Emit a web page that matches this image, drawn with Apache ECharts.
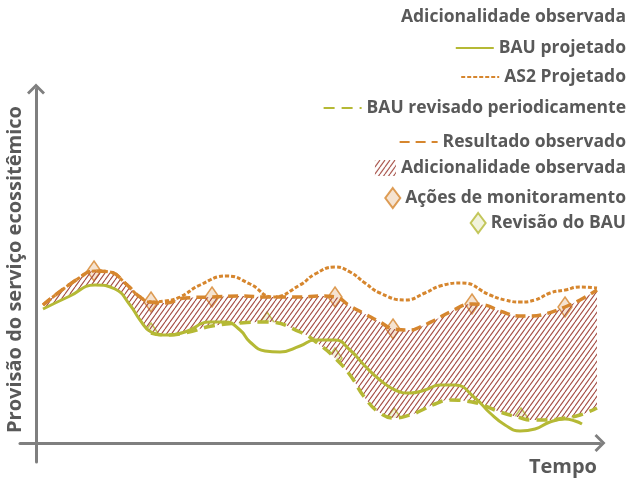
<!DOCTYPE html>
<html lang="pt">
<head>
    <meta charset="UTF-8">
    <title>Adicionalidade observada</title>
    <script src="https://cdn.jsdelivr.net/npm/echarts@6/dist/echarts.min.js"></script>
    <style>
        html, body { margin: 0; padding: 0; background: #fff; }
        #graph { width: 630px; height: 478px; }
    </style>
</head>
<body>
<div id="graph"></div>
<script>
    // tempo (x) e provisao (y)
    var tObs = [7, 43, 59, 74, 89, 104, 115, 129, 149, 176, 204, 231, 264, 284, 299, 314, 329, 344, 358, 374, 384, 399, 414, 436, 449, 464, 485, 494, 509, 529, 544, 561];
    var resultadoObs = [138, 165, 172, 171, 160, 146, 141, 140, 145, 146, 147, 146, 146, 147, 146, 137, 129, 121, 114, 113, 116, 123, 131, 139, 138, 132, 127, 127, 129, 136, 143, 153];
    // antes da primeira revisao (indice 6) o BAU revisado segue o BAU projetado
    var bauRevisado = [134, 153, 158, 156, 144, 123, 110, 108, 110, 117, 120, 121, 111, 98, 85, 68, 45, 30, 25, 28, 32, 39, 43, 41, 37, 31, 25, 23, 23, 25, 28, 35];
    var inicioRevisao = 6;

    var tBau = [7, 34, 59, 79, 94, 104, 115, 129, 149, 174, 189, 204, 214, 229, 244, 264, 279, 299, 314, 329, 344, 359, 374, 389, 404, 419, 439, 454, 469, 484, 499, 514, 529, 539, 546];
    var bauProjetado = [134, 147, 158, 154, 138, 123, 111, 108, 111, 121, 121, 113, 101, 92, 91, 97, 103, 103, 93, 77, 63, 53, 50, 53, 58, 58, 45, 30, 18, 12, 14, 21, 24, 22, 19];

    var tAs2 = [7, 43, 59, 74, 89, 104, 115, 129, 144, 164, 191, 214, 237, 264, 279, 299, 314, 329, 344, 369, 389, 404, 426, 454, 469, 484, 499, 514, 529, 544, 561];
    var as2Projetado = [138, 165, 172, 171, 160, 146, 141, 142, 146, 158, 167, 159, 146, 158, 169, 176, 171, 160, 150, 143, 150, 157, 160, 148, 143, 141, 143, 150, 153, 156, 155];

    var monitoramento = [[58, 172], [115, 141], [176, 146], [299, 146], [357, 114], [436, 139], [529, 136]];
    var revisaoBau = [[115, 110], [231, 121], [299, 85], [358, 25], [485, 25]];

    var verde = '#b5b935';
    var laranja = '#d6862e';
    var cinza = '#595959';
    var eixo = '#7f7f7f';

    function pares(xs, ys) {
        var out = [];
        for (var i = 0; i < xs.length; i++) out.push([xs[i], ys[i]]);
        return out;
    }

    // hachura diagonal
    var tile = document.createElement('canvas');
    tile.width = 5;
    tile.height = 7;
    var ctx = tile.getContext('2d');
    ctx.strokeStyle = '#a34a40';
    ctx.lineWidth = 1.1;
    [-5, 0, 5].forEach(function (dx) {
        ctx.beginPath();
        ctx.moveTo(dx, 7);
        ctx.lineTo(dx + 5, 0);
        ctx.stroke();
    });
    var hachura = { image: tile, repeat: 'repeat' };

    var seta = 'path://M0,9 L9,0 L18,9 L16,11 L9,4 L2,11 Z';
    var fonte = { color: cinza, fontWeight: 'bold', fontSize: 17.5, fontFamily: 'Open Sans', lineHeight: 20 };

    function legenda(nome, top, w, h, extra) {
        var item = { name: nome };
        if (extra) for (var k in extra) item[k] = extra[k];
        return {
            right: 4, top: top, padding: 0,
            itemWidth: w, itemHeight: h, itemGap: 8,
            selectedMode: false,
            textStyle: fonte,
            data: [item]
        };
    }
    var semSimbolo = { itemStyle: { opacity: 0 } };

    var myChart = echarts.init(document.getElementById('graph'));
    var option = {
        animation: false,
        title: {
            text: 'Adicionalidade observada',
            right: 4, top: 8, padding: 0,
            textStyle: { color: cinza, fontWeight: 'bold', fontSize: 17.5, fontFamily: 'Open Sans' }
        },
        legend: [
            legenda('BAU projetado', 38, 38, 12, semSimbolo),
            legenda('AS2 Projetado', 67, 38, 12, semSimbolo),
            legenda('BAU revisado periodicamente', 98, 38, 12, semSimbolo),
            legenda('Resultado observado', 132, 38, 12, semSimbolo),
            legenda('Adicionalidade observada', 158, 21, 16, { icon: 'rect', itemStyle: { color: hachura } }),
            legenda('Ações de monitoramento', 187, 15, 20),
            legenda('Revisão do BAU', 212, 15, 20)
        ],
        grid: { left: 20, right: 30, top: 89, bottom: 16, outerBoundsMode: 'none', containLabel: false },
        xAxis: {
            type: 'value', min: -16, max: 564, z: 10,
            name: 'Tempo', nameLocation: 'end', nameGap: -3,
            nameTextStyle: { color: cinza, fontWeight: 'bold', fontSize: 20, fontFamily: 'Open Sans', align: 'right', verticalAlign: 'top', padding: [14, 0, 0, 0] },
            axisLine: { onZero: true, lineStyle: { color: eixo, width: 3 }, symbol: ['none', seta], symbolSize: [18, 11] },
            axisTick: { show: false }, axisLabel: { show: false }, splitLine: { show: false }
        },
        yAxis: {
            type: 'value', min: -19, max: 354, z: 10,
            name: 'Provisão do serviço ecossitêmico', nameLocation: 'middle', nameGap: -5, nameRotate: 90,
            nameTextStyle: { color: cinza, fontWeight: 'bold', fontSize: 20, fontFamily: 'Open Sans', padding: [0, 0, 0, 12] },
            axisLine: { onZero: true, lineStyle: { color: eixo, width: 3 }, symbol: ['none', seta], symbolSize: [18, 11] },
            axisTick: { show: false }, axisLabel: { show: false }, splitLine: { show: false }
        },
        series: [
            {
                // hachura ate o resultado observado, recortada pela mascara abaixo do BAU revisado
                name: 'Adicionalidade observada', type: 'line', smooth: true, symbol: 'none',
                lineStyle: { width: 0 }, areaStyle: { color: hachura, opacity: 1 }, silent: true,
                data: pares(tObs, resultadoObs)
            },
            {
                name: 'mascara', type: 'line', smooth: true, symbol: 'none',
                lineStyle: { width: 0 }, areaStyle: { color: '#fff', opacity: 1 }, silent: true,
                data: pares(tObs, bauRevisado)
            },
            {
                name: 'AS2 Projetado', type: 'line', smooth: true, symbol: 'none',
                itemStyle: { color: laranja },
                lineStyle: { color: laranja, width: 3, type: [4, 2] },
                data: pares(tAs2, as2Projetado)
            },
            {
                name: 'BAU projetado', type: 'line', smooth: true, symbol: 'none',
                itemStyle: { color: verde },
                lineStyle: { color: verde, width: 3 },
                data: pares(tBau, bauProjetado)
            },
            {
                name: 'BAU revisado periodicamente', type: 'line', smooth: true, symbol: 'none',
                itemStyle: { color: verde },
                lineStyle: { color: verde, width: 3.5, type: [11, 7] },
                data: pares(tObs.slice(inicioRevisao), bauRevisado.slice(inicioRevisao))
            },
            {
                name: 'Resultado observado', type: 'line', smooth: true, symbol: 'none',
                itemStyle: { color: laranja },
                lineStyle: { color: laranja, width: 3.5, type: [10, 6] },
                data: pares(tObs, resultadoObs)
            },
            {
                name: 'Ações de monitoramento', type: 'scatter', symbol: 'diamond', symbolSize: [14, 20],
                itemStyle: { color: '#f3dcc5', borderColor: laranja, borderWidth: 1.5 },
                data: monitoramento
            },
            {
                name: 'Revisão do BAU', type: 'scatter', symbol: 'diamond', symbolSize: [14, 20],
                itemStyle: { color: '#eef0d4', borderColor: verde, borderWidth: 1.5 },
                data: revisaoBau
            }
        ]
    };
    myChart.setOption(option);
</script>
</body>
</html>
